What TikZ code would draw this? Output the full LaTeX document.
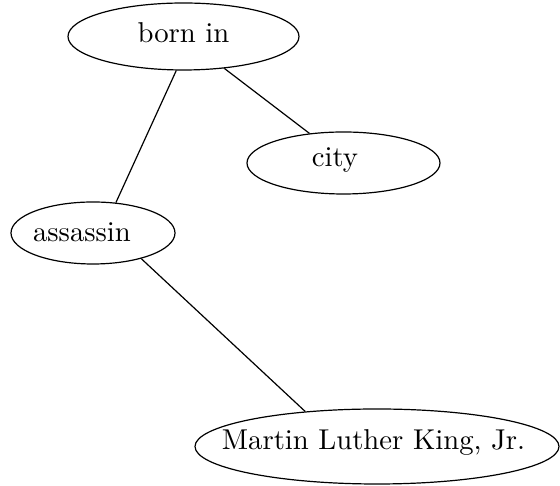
\documentclass[tikz,border=0pt]{standalone}
\usepackage{graphicx}
\usetikzlibrary{shapes.geometric}
\begin{document}
\begin{tikzpicture}[x=1pt,y=1pt,
  concept/.style={draw,ellipse,inner sep=0pt,line width=1.2pt},
  caption/.style={anchor=base,inner sep=0pt},
  link/.style={line width=1.2pt}]
  \useasboundingbox (0,0) rectangle (560,486);
  % concept outlines
  \node[concept,minimum width=231,minimum height=67] (born) at (183.5,449.5) {};
  \node[concept,minimum width=193,minimum height=62] (city) at (343.5,323) {};
  \node[concept,minimum width=164,minimum height=62] (assassin) at (93,253) {};
  \node[concept,minimum width=364,minimum height=75] (mlk) at (377,39.5) {};
  % concept names
  \node[caption] (born-t) at (183.5,443) {\scalebox{2.87}{born in}};
  \node[caption] (city-t) at (335,319) {\scalebox{2.87}{city}};
  \node[caption] (assassin-t) at (82,244) {\scalebox{2.87}{assassin}};
  \node[caption] (mlk-t) at (373.5,36) {\scalebox{2.87}{Martin Luther King, Jr.}};
  % relations
  \draw[link] (born.-102) -- (assassin.53);
  \draw[link] (born.-38) -- (city.139);
  \draw[link] (assassin.-28) -- (mlk.154);
\end{tikzpicture}
\end{document}
